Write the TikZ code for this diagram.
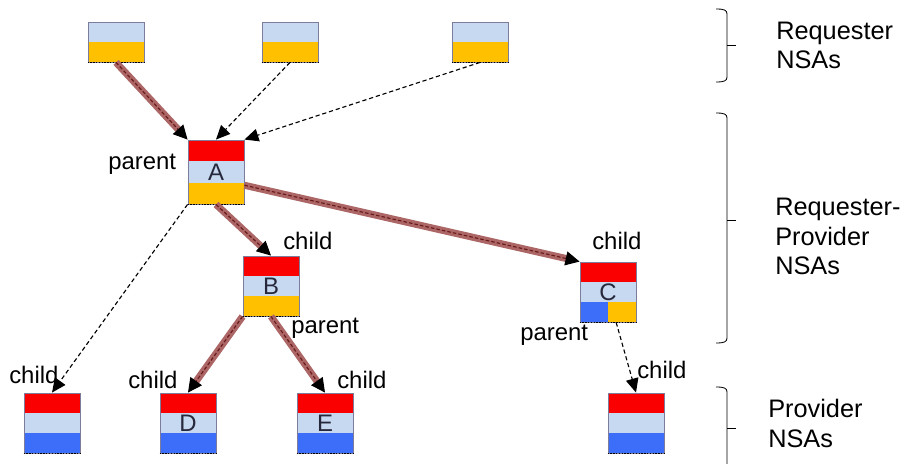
\documentclass[tikz,border=0pt]{standalone}
\usepackage{fontspec}
\setmainfont{Liberation Sans}
\usetikzlibrary{arrows.meta,calc,positioning}
\definecolor{nsared}{RGB}{250,0,0}
\definecolor{nsalight}{RGB}{198,217,240}
\definecolor{nsagold}{RGB}{255,192,0}
\definecolor{nsablue}{RGB}{60,110,250}
\definecolor{nsaframe}{RGB}{125,125,155}
\definecolor{relaycol}{RGB}{172,102,102}
\definecolor{relaycore}{RGB}{105,25,25}
\definecolor{ink}{RGB}{40,40,60}
\tikzset{
  nsa/.style={draw=nsaframe, line width=0.6pt, minimum width=1.4cm, minimum height=1.5cm,
    inner sep=0pt, font=\fontsize{17}{17}\selectfont, text=ink},
  duo/.style 2 args={nsa, minimum height=1cm, path picture={
      \fill[#1] (path picture bounding box.north west) rectangle (path picture bounding box.east);
      \fill[#2] (path picture bounding box.west) rectangle (path picture bounding box.south east);
  }},
  trio/.style n args={3}{nsa, path picture={
      \fill[#1] (path picture bounding box.north west) rectangle ($(path picture bounding box.north east)!1/3!(path picture bounding box.south east)$);
      \fill[#2] ($(path picture bounding box.north west)!1/3!(path picture bounding box.south west)$) rectangle ($(path picture bounding box.north east)!2/3!(path picture bounding box.south east)$);
      \fill[#3] ($(path picture bounding box.north west)!2/3!(path picture bounding box.south west)$) rectangle (path picture bounding box.south east);
  }},
  % bottom band split in two
  quad/.style={nsa, path picture={
      \fill[nsared] (path picture bounding box.north west) rectangle ($(path picture bounding box.north east)!1/3!(path picture bounding box.south east)$);
      \fill[nsalight] ($(path picture bounding box.north west)!1/3!(path picture bounding box.south west)$) rectangle ($(path picture bounding box.north east)!2/3!(path picture bounding box.south east)$);
      \fill[nsablue] ($(path picture bounding box.north west)!2/3!(path picture bounding box.south west)$) rectangle (path picture bounding box.south);
      \fill[nsagold] ($(path picture bounding box.north)!2/3!(path picture bounding box.south)$) rectangle (path picture bounding box.south east);
  }},
  rim/.style={black, line width=1pt, densely dotted},
  relay/.style={draw=relaycol, line width=5pt, shorten >=7pt},
  relaytip/.style={draw=relaycore, line width=0.8pt, dash pattern=on 2.5pt off 1.5pt,
    -{Triangle[length=10pt,width=10pt,color=black]}},
  hint/.style={black, line width=0.8pt, dash pattern=on 3pt off 2pt,
    -{Triangle[length=10pt,width=9pt]}},
  lbl/.style={font=\fontsize{17}{20}\selectfont, inner sep=0pt, anchor=base west},
  side/.style={font=\fontsize{18}{21.3}\selectfont, inner sep=0pt, anchor=base west, align=left},
  bracket/.style={black, line width=0.6pt},
}
\begin{document}
\begin{tikzpicture}[x=0.025cm, y=-0.025cm]
\useasboundingbox (0,0) rectangle (912,464);
%requester
\node[duo={nsalight}{nsagold}] (r1) at (116,42) {};
\node[duo={nsalight}{nsagold}] (r2) at (290,42) {};
\node[duo={nsalight}{nsagold}] (r3) at (480,42) {};
%requester-provider
\node[trio={nsared}{nsalight}{nsagold}, minimum height=1.6cm] (A) at (216,172) {A};
\node[trio={nsared}{nsalight}{nsagold}] (B) at (271,286) {B};
\node[quad] (C) at (608,292) {C};
%provider
\node[trio={nsared}{nsalight}{nsablue}] (p1) at (52,423) {};
\node[trio={nsared}{nsalight}{nsablue}] (D) at (188,423) {D};
\node[trio={nsared}{nsalight}{nsablue}] (E) at (325,423) {E};
\node[trio={nsared}{nsalight}{nsablue}] (p2) at (636,423) {};
\foreach \n in {r1,r2,r3,A,B,C,p1,D,E,p2}
  \draw[rim] (\n.south west) -- (\n.south east);
%Verbindungen
\foreach \a/\b in {r1.south/A.north west, A.south/B.north, A.-25/C.north west, B.south west/D.north, B.south/E.north}{
  \draw[relay] (\a) -- (\b);
  \draw[relaytip] (\a) -- (\b);
}
\foreach \a/\b in {r2.south/A.north, r3.south/A.north east, A.south west/p1.north, C.-75/p2.north}
  \draw[hint] (\a) -- (\b);
%Beschriftung
\node[lbl] (lA) at (108,170) {parent};
\node[lbl] (lBc) at (283,250) {child};
\node[lbl] (lBp) at (291,333) {parent};
\node[lbl] (lCc) at (592,250) {child};
\node[lbl] (lCp) at (520,340) {parent};
\node[lbl] (lP2) at (637,378) {child};
\node[lbl] (lP1) at (9,383) {child};
\node[lbl] (lD) at (128,388) {child};
\node[lbl] (lE) at (337,388) {child};
%Klammern rechts
\foreach \yt/\ym/\yb in {9/45/82, 113/220/343, 387/428/475}{
  \draw[bracket] (716,\yt) .. controls (724,\yt) and (727,\yt+1) .. (727,\yt+5) -- (727,\yb-5) .. controls (727,\yb-1) and (724,\yb) .. (716,\yb);
  \draw[bracket] (727,\ym) -- (736,\ym);
}
\node[side] (g1) at (776,69) {Requester\\NSAs};
\node[side] (g2) at (775,275) {Requester-\\Provider\\NSAs};
\node[side] (g3) at (768,447) {Provider\\NSAs};
\end{tikzpicture}
\end{document}
